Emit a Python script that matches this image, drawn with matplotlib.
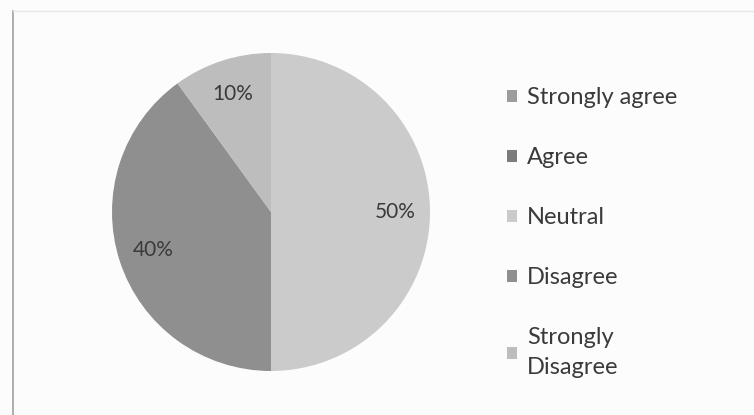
import matplotlib
matplotlib.use("Agg")
import matplotlib.pyplot as plt
from matplotlib.lines import Line2D

plt.rcParams["font.family"] = ["Lato", "DejaVu Sans"]

# survey answers, Excel-style order (clockwise from 12 o'clock)
categories = ["Strongly agree", "Agree", "Neutral", "Disagree", "Strongly\nDisagree"]
shares = [0, 0, 50, 40, 10]
colors = ["#9c9c9c", "#7b7b7b", "#cbcbcb", "#8f8f8f", "#bdbdbd"]

TEXT = "#3a3a3a"


def pct_label(p: float) -> str:
    return f"{p:.0f}%" if p > 0 else ""


fig = plt.figure(figsize=(7.54, 4.15), dpi=100)
fig.patch.set_facecolor("#fcfcfc")

# pie sits on the left: ~316 px across, centre near (271, 212)
ax = fig.add_axes([112 / 754, (415 - 371) / 415, 318 / 754, 318 / 415])
wedges, _, autotexts = ax.pie(
    shares,
    colors=colors,
    startangle=90,
    counterclock=False,
    autopct=pct_label,
    pctdistance=0.78,
    wedgeprops={"linewidth": 0},
    textprops={"fontsize": 15, "color": TEXT},
)
ax.set_xlim(-1, 1)
ax.set_ylim(-1, 1)
ax.set_aspect("equal")

leg = fig.legend(
    wedges,
    categories,
    loc="upper left",
    bbox_to_anchor=(486 / 754, 1 - 66 / 415),
    frameon=False,
    fontsize=17,
    handlelength=0.4,
    handleheight=0.4,
    handletextpad=0.45,
    labelspacing=1.65,
    labelcolor=TEXT,
)
leg.get_texts()[-1].set_linespacing(1.55)

# chart border remnants from the scanned page
fig.add_artist(Line2D([13 / 754, 13 / 754], [0, 1 - 11 / 415], color="#a0a0a0", lw=1.2))
fig.add_artist(Line2D([13 / 754, 1], [1 - 11 / 415, 1 - 11 / 415], color="#e6e6e6", lw=1.0))

fig.savefig("out.png", dpi=100, facecolor=fig.get_facecolor())
